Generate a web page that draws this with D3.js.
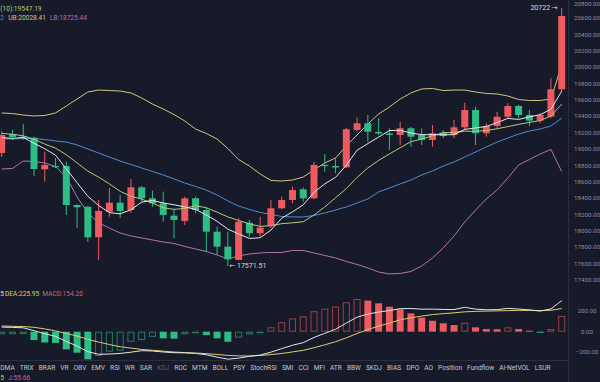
<!DOCTYPE html>
<html><head><meta charset="utf-8">
<script src="https://cdn.jsdelivr.net/npm/d3@7"></script>
<style>
html,body{margin:0;padding:0;background:#171a29;overflow:hidden}
svg{display:block}
text{font-family:Roboto,"Noto Sans","DejaVu Sans",sans-serif}
</style>
</head><body>
<svg id="c" width="600" height="382"></svg>
<script>
// ---------------- data ----------------
const open  = [18951,19183,19150,19138,18752,18792,18792,18316,18295,17922,18234,18344,18255,18532,18398,18337,18186,18121,18398,18255,17990,17807,17645,18100,17971,18060,18276,18377,18508,18398,18805,18792,18777,19232,19314,19208,19189,19171,19253,19171,19110,19199,19171,19265,19476,19192,19281,19394,19525,19415,19346,19394,19729];
const high  = [19220,19232,19305,19150,18967,18890,18845,18320,18300,18377,18524,18438,18634,18550,18491,18479,18255,18418,18418,18288,18051,17990,18154,18133,18173,18377,18418,18540,18530,18845,18939,18886,19260,19387,19415,19375,19253,19333,19270,19253,19293,19232,19354,19565,19516,19314,19455,19558,19540,19476,19436,19863,20722];
const low   = [18902,19110,19110,18670,18601,18768,18194,18035,17868,17645,18173,18157,18219,18357,18295,18112,17910,18072,18215,17746,17706,17571.51,17640,17922,17929,18032,18265,18337,18357,18390,18723,18703,18768,19211,19089,19171,18988,19049,19028,19049,19028,19135,19131,19232,19049,19150,19253,19375,19375,19281,19314,19375,19700];
const close = [19171,19147,19135,18756,18805,18780,18316,18288,17922,18243,18344,18243,18532,18398,18337,18194,18133,18398,18255,17990,17807,17653,18112,17971,18039,18276,18377,18499,18398,18805,18792,18774,19241,19314,19211,19189,19171,19253,19150,19110,19192,19159,19265,19476,19192,19281,19394,19525,19415,19346,19415,19729,20624];

const ma5  = [19140,19130,19140,19070,19003,18925,18758,18589,18422,18310,18223,18208,18257,18352,18371,18341,18319,18292,18263,18194,18117,18021,17963,17907,17916,18010,18155,18232,18318,18471,18574,18654,18802,18985,19066,19146,19225,19228,19195,19175,19175,19173,19175,19240,19257,19275,19322,19374,19361,19392,19419,19486,19706];
const ma10 = [19190,19180,19160,19120,19060,19010,18930,18830,18730,18656,18574,18483,18423,18387,18340,18282,18263,18274,18308,18282,18229,18170,18128,18085,18055,18063,18088,18098,18112,18194,18292,18404,18517,18652,18769,18860,18939,19015,19090,19121,19161,19199,19201,19218,19216,19225,19247,19274,19301,19325,19347,19404,19547.19];
const bollUp  = [19440,19433,19415,19403,19409,19440,19525,19610,19696,19720,19714,19708,19684,19623,19549,19488,19421,19342,19244,19189,19122,19006,18872,18792,18695,18615,18609,18621,18658,18744,18829,18890,19037,19171,19305,19427,19513,19610,19684,19733,19739,19714,19720,19720,19696,19678,19672,19647,19604,19592,19592,19610,20028.41];
const bollMid = [19122,19122,19128,19128,19116,19098,19085,19049,19000,18951,18902,18853,18811,18768,18725,18683,18634,18585,18542,18499,18438,18365,18304,18261,18225,18200,18176,18170,18170,18188,18219,18255,18292,18341,18389,18475,18524,18573,18621,18683,18731,18792,18841,18902,18963,19024,19085,19134,19183,19220,19244,19281,19376.92];
const bollLow = [18756,18762,18853,18847,18829,18786,18658,18414,18219,18096,18035,17974,17938,17913,17889,17864,17846,17810,17779,17748,17706,17657,17694,17718,17730,17736,17736,17761,17761,17730,17700,17669,17626,17590,17547,17498,17474,17480,17504,17571,17669,17791,17938,18109,18255,18389,18499,18646,18805,18872,18939,18994,18725.44];

const macdHist = [-25,-24,-23,-82,-105,-110,-172,-205,-270,-237,-195,-185,-98,-82,-50,-65,-68,-25,-15,-33,-65,-98,-58,-27,-8,43,92,130,150,200,225,245,287,319,303,277,244,218,179,137,107,82,65,88,43,26,24,43,26,10,-10,26,154.20];
const dif = [45,42,38,10,-20,-45,-95,-140,-195,-220,-218,-212,-200,-185,-188,-198,-205,-206,-212,-225,-248,-268,-258,-240,-228,-200,-165,-132,-107,-56,-16,24,84,142,172,192,206,225,226,220,220,217,216,238,220,214,215,228,221,213,201,222,303.05];
const dea = [56,53,50,43,27,8,-17,-42,-74,-101,-125,-147,-160,-173,-181,-190,-198,-204,-208,-214,-222,-231,-236,-237,-232,-223,-213,-197,-182,-156,-128,-98,-60,-18,21,54,84,116,136,152,167,176,184,194,198,201,203,206,208,208,206,209,225.95];

const priceTicks = [17400,17600,17800,18000,18200,18400,18600,18800,19000,19200,19400,19600,19800,20000,20200,20400,20600,20800];
const macdTicks = [-200,0,200];
const tabs = ["DMA","TRIX","BRAR","VR","OBV","EMV","RSI","WR","SAR","KDJ","ROC","MTM","BOLL","PSY","StochRSI","SMI","CCI","MFI","ATR","BBW","SKDJ","BIAS","DPO","AO","Position","Fundflow","AI-NetVOL","LSUR"];

// ---------------- drawing ----------------
const C = {bg:"#171a29", up:"#ef5a5f", down:"#2ebd85", axis:"#8a8fa3", ma5:"#e6e6ea", ma10:"#b3cc78",
  ub:"#d6c47e", mb:"#4b8fd6", lb:"#b673b4", dif:"#e6e6ea", dea:"#dccf6e", sep:"#2a2e40"};
const svg = d3.select("#c");
svg.append("rect").attr("width",600).attr("height",382).attr("fill",C.bg);

const n = close.length;
const idx = d3.range(n);
const x = d3.scaleBand().domain(idx).range([-3.7, 567.1]).paddingInner(0.35).paddingOuter(0.175);
const cx = i => x(i) + x.bandwidth()/2;
const y = d3.scaleLinear().domain([17400, 20800]).range([280, 1.6]);
const ym = d3.scaleLinear().domain([-200, 200]).range([352.2, 311.2]);

// separators
svg.append("line").attr("x1",568.5).attr("x2",568.5).attr("y1",0).attr("y2",382).attr("stroke",C.sep);
svg.append("line").attr("x1",0).attr("x2",568).attr("y1",360.5).attr("y2",360.5).attr("stroke",C.sep);

// main pane
const main = svg.append("g");
const lineG = (arr, col) => main.append("path").datum(arr)
  .attr("fill","none").attr("stroke",col).attr("stroke-width",1)
  .attr("d", d3.line().x((d,i)=>cx(i)).y(d=>y(d)));
lineG(bollUp, C.ub); lineG(bollMid, C.mb); lineG(bollLow, C.lb);

const cg = main.append("g");
idx.forEach(i => {
  const o=open[i], c=close[i], col = c>=o ? C.up : C.down;
  cg.append("line").attr("x1",cx(i)).attr("x2",cx(i)).attr("y1",y(high[i])).attr("y2",y(low[i]))
    .attr("stroke",col).attr("stroke-width",1);
  const top = y(Math.max(o,c)), bot = y(Math.min(o,c));
  cg.append("rect").attr("x",x(i)).attr("width",x.bandwidth()).attr("y",top)
    .attr("height",Math.max(1.2, bot-top)).attr("fill",col);
});
lineG(ma10, C.ma10); lineG(ma5, C.ma5);

// extreme labels
const hiI = d3.maxIndex(high), loI = d3.minIndex(low);
main.append("text").attr("x", cx(hiI)-4).attr("y", y(high[hiI])+2.3).attr("text-anchor","end")
  .attr("font-size",7).attr("fill","#d8dae2").text(d3.format(".0f")(high[hiI]) + " \u2192");
main.append("text").attr("x", cx(loI)+1.5).attr("y", y(low[loI])+2.3).attr("text-anchor","start")
  .attr("font-size",7).attr("fill","#d8dae2").text("\u2190 " + d3.format(".2f")(low[loI]));

// price axis
svg.append("g").selectAll("text").data(priceTicks).join("text")
  .attr("x",587).attr("y",d=>Math.max(3.6, y(d))).attr("dy","0.35em").attr("text-anchor","middle")
  .attr("font-size",6.2).attr("fill",C.axis).text(d=>d3.format(".2f")(d));

// MACD pane
const mg = svg.append("g");
idx.forEach(i => {
  const v = macdHist[i], prev = i>0 ? macdHist[i-1] : v;
  const col = v>=0 ? C.up : C.down;
  const solid = v < prev;
  const t = ym(Math.max(0,v)), b = ym(Math.min(0,v));
  if (solid) {
    mg.append("rect").attr("x",x(i)).attr("width",x.bandwidth()).attr("y",t).attr("height",Math.max(1,b-t)).attr("fill",col);
  } else {
    mg.append("rect").attr("x",x(i)+0.5).attr("width",x.bandwidth()-1).attr("y",t+0.5).attr("height",Math.max(0.5,b-t-1))
      .attr("fill","none").attr("stroke",col).attr("stroke-opacity",0.6).attr("stroke-width",1);
  }
});
const lineM = (arr,col) => mg.append("path").datum(arr).attr("fill","none").attr("stroke",col).attr("stroke-width",1)
  .attr("d", d3.line().x((d,i)=>cx(i)).y(d=>ym(d)));
lineM(dea, C.dea); lineM(dif, C.dif);
svg.append("g").selectAll("text").data(macdTicks).join("text")
  .attr("x",587).attr("y",d=>ym(d)).attr("dy","0.35em").attr("text-anchor","middle")
  .attr("font-size",6.2).attr("fill",C.axis).text(d=>d3.format(".2f")(d));

// legends (only the parts visible in the reference; the rest is scrolled off the left edge)
function legendRow(yy, items){
  items.forEach(it => svg.append("text").attr("x",it.x).attr("y",yy).attr("font-size",6.6).attr("fill",it.c).text(it.t));
}
legendRow(10.5, [{t:"(10):19547.19", c:C.ma10, x:0.3}]);
legendRow(19.5, [{t:"2", c:C.mb, x:0.2}, {t:"UB:20028.41", c:C.ub, x:8.3}, {t:"LB:18725.44", c:C.lb, x:50}]);
legendRow(295.8, [{t:"5", c:C.dif, x:0.2}, {t:"DEA:225.95", c:C.dea, x:5}, {t:"MACD:154.20", c:"#d0696b", x:42.3}]);
legendRow(380.2, [{t:"5", c:C.dea, x:0.2}, {t:"J:55.66", c:"#c45ec8", x:8.3}]);

// indicator tabs
const tg = svg.append("g");
const tnodes = tabs.map(s => tg.append("text").attr("y",370).attr("font-size",6.6)
  .attr("fill", s==="KDJ" ? "#5b6074" : "#c4c8d4").text(s));
const widths = tnodes.map(t => t.node().getComputedTextLength());
const x0 = 0.3, x1 = 550.5;
const gap = (x1 - x0 - d3.sum(widths)) / (tabs.length - 1);
let cur = x0;
tnodes.forEach((t,k) => { t.attr("x",cur); cur += widths[k] + gap; });
</script>
</body></html>
